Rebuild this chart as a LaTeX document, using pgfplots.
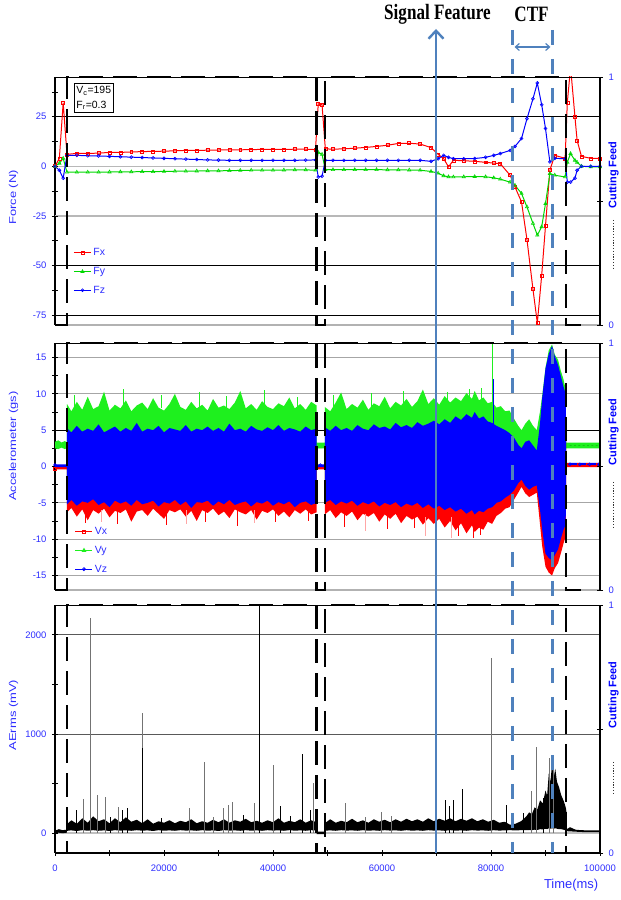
\documentclass[border=0pt]{standalone}
\usepackage{pgfplots}
\pgfplotsset{compat=1.18}
\usepackage{pgfplotstable}
\usepgfplotslibrary{fillbetween}
\usetikzlibrary{arrows.meta}
\usepackage{fontspec}
\setmainfont{Liberation Sans}
\newfontfamily\annfont{Liberation Serif}
\definecolor{sfblue}{RGB}{79,129,189}
\definecolor{tickblue}{RGB}{45,45,255}
\definecolor{fgreen}{RGB}{0,215,0}
\definecolor{vgreen}{RGB}{30,240,30}
\definecolor{fred}{RGB}{255,0,0}
\definecolor{fblue}{RGB}{0,0,255}

\pgfplotstableread{
t fx fy fz
0 0 0 0
800 4 1.5 -2
1500 32 4 -6
2200 6 -3 5.5
4000 6.5 -3 5.5
6000 6.5 -3 5.3
8000 6.6 -3 5.2
10000 7 -2.9 5.0
12000 7 -2.8 4.8
14000 7.2 -2.8 4.6
16000 7.4 -2.7 4.4
18000 7.5 -2.7 4.2
20000 7.6 -2.6 4.0
22000 7.8 -2.5 3.8
24000 8 -2.5 3.6
26000 8 -2.4 3.4
28000 8.1 -2.3 3.2
30000 8.2 -2.3 3.1
32000 8.3 -2.2 3.0
34000 8.3 -2.1 3.0
36000 8.4 -2.0 3.0
38000 8.5 -2.0 3.0
40000 8.5 -2.0 3.0
42000 8.5 -1.9 3.0
44000 8.6 -1.8 3.0
46000 8.6 -1.8 3.1
47800 8.4 -2.0 3.2
48300 31.5 7 -5.4
49000 31 6 -5
49600 8.8 -1.7 3.0
51000 8.6 -1.7 3.0
53000 8.8 -1.7 3.0
55000 9.1 -1.7 3.0
57000 9.5 -1.7 3.0
59000 10 -1.7 3.0
61000 10.6 -1.8 3.0
63000 11.5 -1.8 3.0
65000 11.6 -1.9 3.0
67000 11.2 -2.0 3.0
69000 9.4 -2.6 2.5
70300 6 -3.5 3.8
71300 3.9 -4.8 5.5
72200 -0.3 -5.3 4.5
73100 3 -5.4 3.8
75000 2.8 -5.3 3.8
77000 2.5 -5.2 3.9
79000 2 -5.3 4.5
80500 1.6 -5.8 5.5
81700 1.3 -6.5 6.4
83500 -4.5 -8 8
84400 -10.4 -9.6 10
85600 -18 -13.7 14
86600 -37 -20.5 24
87700 -62 -28.8 34
88500 -79 -34.7 42
89300 -55 -30.5 31
90000 -30 -18.8 19
90800 -2 -3.7 2.2
91700 5.5 -4.5 4
93600 4 -5.4 3.8
94000 32 2 -8
94600 50 6.4 -8
95400 25 3 -6
95800 13 2 -2
96600 5 0 0
98300 4 -0.3 0
100000 4 -0.3 0
}\force

\pgfplotstableread{
t gh gl bh bl rh rl
0 3.4 2.5 0.3 -0.1 0.0 -0.4
600 3.6 2.4 0.3 -0.1 0.0 -0.4
1200 3.3 2.6 0.3 -0.1 0.0 -0.4
1800 3.5 2.4 0.3 -0.1 0.0 -0.4
2199 3.3 2.5 0.3 -0.1 0.0 -0.4
2200 8.6 -2.5 5.3 -5.2 2.5 -6.3
3000 7.6 -2.5 4.7 -4.6 2.5 -5.7
4000 8.9 -2.5 5.6 -5.4 2.5 -6.9
5000 7.8 -2.5 4.8 -4.8 2.5 -5.9
6000 9.6 -2.5 5.2 -5.0 2.5 -7.4
7000 7.9 -2.5 4.9 -4.5 2.5 -6.0
8000 8.3 -2.5 5.8 -5.3 2.5 -6.5
9000 10.3 -2.5 4.7 -4.9 2.5 -5.8
10000 7.7 -2.5 5.1 -5.6 2.5 -7.0
11000 8.5 -2.5 5.5 -4.7 2.5 -6.1
12000 8.0 -2.5 4.8 -5.1 2.5 -6.4
13000 9.1 -2.5 5.3 -4.8 2.5 -5.9
14000 7.6 -2.5 4.9 -5.4 2.5 -7.6
15000 8.4 -2.5 6.0 -4.6 2.5 -6.2
16000 8.8 -2.5 4.8 -5.2 2.5 -6.0
17000 7.9 -2.5 5.2 -5.0 2.5 -6.8
18000 9.4 -2.5 5.0 -4.7 2.5 -5.8
19000 8.1 -2.5 5.6 -5.5 2.5 -6.5
20000 7.7 -2.5 4.7 -4.9 2.5 -7.2
21000 8.6 -2.5 5.3 -5.1 2.5 -6.0
22000 10.0 -2.5 5.1 -4.6 2.5 -6.3
23000 8.2 -2.5 4.9 -5.3 2.5 -5.9
24000 7.8 -2.5 5.7 -4.8 2.5 -6.9
25000 8.9 -2.5 4.8 -5.7 2.5 -6.1
26000 8.0 -2.5 5.2 -4.9 2.5 -7.5
27000 8.5 -2.5 5.0 -5.0 2.5 -6.0
28000 7.7 -2.5 5.5 -4.7 2.5 -6.4
29000 9.3 -2.5 4.9 -5.4 2.5 -5.8
30000 8.1 -2.5 5.3 -4.8 2.5 -6.7
31000 8.4 -2.5 4.8 -5.2 2.5 -6.2
32000 7.9 -2.5 5.9 -4.6 2.5 -7.1
33000 8.8 -2.5 5.0 -5.3 2.5 -5.9
34000 10.4 -2.5 5.2 -5.0 2.5 -6.3
35000 8.0 -2.5 4.8 -4.8 2.5 -6.6
36000 8.6 -2.5 5.6 -5.5 2.5 -6.0
37000 7.8 -2.5 5.1 -4.9 2.5 -7.3
38000 9.0 -2.5 4.9 -5.1 2.5 -6.1
39000 8.2 -2.5 5.4 -4.7 2.5 -6.4
40000 7.9 -2.5 5.0 -5.4 2.5 -5.9
41000 8.7 -2.5 5.7 -4.9 2.5 -6.8
42000 8.3 -2.5 4.9 -5.2 2.5 -6.2
43000 9.5 -2.5 5.3 -4.8 2.5 -7.0
44000 8.0 -2.5 5.1 -5.6 2.5 -6.0
45000 8.6 -2.5 4.8 -5.0 2.5 -6.5
46000 7.8 -2.5 5.5 -4.8 2.5 -5.9
47000 8.9 -2.5 5.0 -5.3 2.5 -6.6
47999 8.4 -2.5 5.2 -5.0 2.5 -6.3
48000 3.3 2.5 0.3 -0.1 0.0 -0.4
49499 3.3 2.5 0.3 -0.1 0.0 -0.4
49500 8.2 -2.5 5.4 -5.0 2.5 -6.6
50500 7.6 -2.5 4.9 -4.6 2.5 -6.0
51500 8.8 -2.5 5.6 -5.3 2.5 -7.1
52500 10.2 -2.5 5.0 -4.8 2.5 -6.3
53500 7.9 -2.5 5.3 -5.1 2.5 -6.8
54500 8.6 -2.5 4.9 -4.7 2.5 -6.2
55500 8.1 -2.5 5.7 -5.4 2.5 -7.4
56500 9.2 -2.5 5.2 -4.9 2.5 -6.5
57500 7.8 -2.5 5.0 -5.2 2.5 -6.9
58500 8.7 -2.5 5.8 -4.8 2.5 -6.4
59500 8.3 -2.5 5.3 -5.5 2.5 -7.6
60500 9.6 -2.5 5.5 -5.0 2.5 -6.6
61500 8.0 -2.5 5.1 -5.3 2.5 -7.2
62500 8.9 -2.5 6.0 -4.9 2.5 -6.5
63500 8.4 -2.5 5.4 -5.6 2.5 -7.8
64500 9.3 -2.5 5.7 -5.1 2.5 -6.8
65500 8.2 -2.5 5.3 -5.4 2.5 -7.3
66500 9.0 -2.5 6.1 -5.0 2.5 -6.9
67500 10.6 -2.5 5.6 -5.7 2.5 -8.0
68500 8.6 -2.5 5.9 -5.2 2.5 -7.1
69500 9.4 -2.5 6.3 -5.8 2.5 -7.9
70500 8.5 -2.5 5.8 -5.4 2.5 -7.2
71500 9.7 -2.5 6.5 -6.0 2.5 -8.4
72500 8.8 -2.5 6.0 -5.6 2.5 -7.5
73500 9.5 -2.5 6.9 -6.2 2.5 -8.8
74500 9.0 -2.5 6.4 -5.8 2.5 -7.8
75500 10.1 -2.5 7.2 -6.5 2.5 -9.2
76500 9.3 -2.5 6.7 -6.0 2.5 -8.1
77000 10.4 -2.5 7.5 -6.6 2.5 -9.0
77800 9.1 -2.5 6.6 -6.1 2.5 -8.4
78600 9.5 -2.5 6.9 -6.3 2.5 -8.7
79400 8.7 -2.5 6.2 -5.8 2.5 -7.6
80200 8.9 -2.5 6.0 -5.6 2.5 -7.9
81000 8.1 -2.5 5.6 -5.0 2.5 -6.8
81800 8.3 -2.5 5.3 -4.8 2.5 -6.4
82600 7.6 -2.0 5.0 -4.3 2.5 -5.8
83400 7.7 -2.0 4.6 -3.9 2.5 -5.6
84200 6.6 0 4.0 -3.3 1.5 -4.6
85000 5.6 0 3.0 -2.3 1.5 -3.6
85600 5.0 0 2.5 -1.8 1.5 -2.8
86300 5.9 0 3.4 -2.7 1.5 -3.7
87000 6.5 0 3.6 -3.2 1.5 -4.2
87700 5.6 0 2.9 -2.8 1.5 -3.9
88400 5.0 0 2.2 -2.6 1.5 -3.6
89000 7.6 -2 6.0 -6.0 5.0 -8.0
89400 9.8 -2 9.5 -8.7 8.5 -11.0
90000 13.6 -2 13.5 -12.0 12.5 -13.8
90600 16.0 -2 15.5 -12.6 14.5 -14.6
91200 16.8 -2 16.6 -12.9 15.6 -15.0
91700 15.4 -2 15.2 -12.2 14.2 -14.0
92300 14.7 -2 14.0 -11.4 13 -13.3
92800 13.2 -2 12.5 -10.0 11.5 -12.0
93300 12.0 -2 11.0 -8.7 10 -10.6
93700 10.6 -2 10.0 -8.0 9 -9.6
93800 3.3 2.5 0.5 0.1 0.3 -0.1
100000 3.3 2.5 0.5 0.1 0.3 -0.1
}\acc

\pgfplotstableread{
t lo hi
0 0 25
700 5 40
1400 0 30
2199 5 35
2200 25 90
3000 28 130
4000 22 95
5000 30 150
6000 25 105
7000 30 170
8000 24 120
9000 28 140
10000 22 100
11000 30 150
12000 26 110
13000 28 160
14000 24 115
15000 30 135
16000 25 100
17000 28 140
18000 22 95
19000 30 120
20000 25 105
21000 28 130
22000 24 100
23000 30 125
24000 26 110
25000 28 140
26000 24 100
27000 30 120
28000 25 105
29000 28 135
30000 22 110
31000 30 140
32000 26 105
33000 28 130
34000 24 115
35000 30 145
36000 25 110
37000 28 125
38000 24 105
39000 30 130
40000 26 110
41000 28 150
42000 24 105
43000 30 125
44000 25 110
45000 28 140
46000 24 105
47000 30 130
47999 26 110
48000 -10 15
49499 -10 15
49500 25 100
50500 28 140
51500 24 105
52500 30 125
53500 26 110
54500 28 145
55500 24 110
56500 30 130
57500 25 105
58500 28 140
59500 24 115
60500 30 135
61500 26 110
62500 28 140
63500 24 115
64500 30 145
65500 25 120
66500 28 140
67500 24 115
68500 30 150
69500 26 120
70500 28 145
71500 24 125
72500 30 150
73500 25 120
74500 28 145
75500 24 125
76500 30 150
77500 26 120
78500 28 140
79500 24 115
80500 30 135
81500 26 105
82500 28 115
83500 30 85
84500 28 95
85500 30 120
86500 30 170
87000 32 210
87500 30 190
88000 35 260
88500 32 240
89000 40 330
89500 38 300
90000 45 430
90300 40 380
90600 50 600
90900 45 520
91200 50 690
91500 45 560
91800 50 650
92100 45 520
92500 40 460
92900 40 380
93300 35 330
93600 30 280
93800 30 240
93900 20 40
94500 18 60
95500 15 35
96500 12 30
98000 10 28
100000 10 28
}\ae

\pgfplotstableread{
t c
0 0
2200 0
2200 1
48000 1
48000 0
49500 0
49500 1
93800 1
93800 0
96500 0
}\cf

\pgfplotsset{
  base/.style={scale only axis, width=545bp, xmin=0, xmax=100000,
    /pgf/number format/assume math mode=true,
    /pgf/number format/set thousands separator={},
    scaled x ticks=false, scaled y ticks=false,
    tick label style={font=\fontsize{9.5}{10}\selectfont, text=tickblue},
    tick align=center, major tick length=6bp, minor tick length=6bp,
    tick style={black, line width=0.7pt},
  },
  mainax/.style={base, anchor=south west, axis x line*=bottom, axis y line*=left,
    y axis line style={black, line width=1.3pt},
    x axis line style={black!30, line width=1.3pt},
    xtick=\empty, ymajorgrids,
    yticklabel style={xshift=-2bp},
    ylabel style={font=\fontsize{10}{12}\selectfont, text=tickblue, anchor=center},
  },
  feedax/.style={base, anchor=south west, axis y line*=right, axis x line*=top,
    ymin=0, ymax=1, ytick={0,1}, minor ytick={0.5}, xtick=\empty, clip=false,
    y axis line style={black, line width=1.3pt},
    x axis line style={black, line width=0.6pt},
    yticklabel style={xshift=2bp},
    ylabel={Cutting Feed},
    ylabel style={font=\bfseries\fontsize{11}{13}\selectfont, text=fblue, anchor=center},
  },
  feed/.style={black, line width=2.4bp, dash pattern=on 24bp off 10bp},
}

\begin{document}
\begin{tikzpicture}

% ---------------- Force panel ----------------
\begin{axis}[mainax, at={(55bp,575bp)}, height=248bp, ymin=-80, ymax=45,
  ytick={-75,-50,25}, extra y ticks={-25,0},
  extra y tick style={grid=major, grid style={black!28, line width=1.4pt}},
  minor ytick={-62.5,-37.5,-12.5,12.5,37.5},
  grid style={black, line width=0.7pt},
  ylabel={\scalebox{1.3}[1]{Force (N)}},
  ylabel style={at={(rel axis cs:-0.076,0.514)}},
  legend style={at={(0.028,0.325)}, anchor=north west, draw=none, fill=none,
    font=\fontsize{10.5}{12}\selectfont, text=tickblue, row sep=6bp},
  legend cell align=left]
\addplot[fred, line width=1pt, mark=square, mark size=1.5pt, mark options={solid, fill=white, line width=0.6pt}] table[x=t,y=fx]{\force};
\addlegendentry{Fx}
\addplot[fgreen, line width=1pt, mark=triangle, mark size=1.9pt, mark options={solid, fill=white, line width=0.6pt}] table[x=t,y=fy]{\force};
\addlegendentry{Fy}
\addplot[fblue, line width=1pt, mark=o, mark size=1.5pt, mark options={solid, fill=white, line width=0.6pt}] table[x=t,y=fz]{\force};
\addlegendentry{Fz}
\node[draw, fill=white, anchor=north west, align=left, inner sep=2.5bp, line width=0.8pt,
  font=\fontsize{10.5}{15}\selectfont] at (rel axis cs:0.034,0.975) {V\textsubscript{c}=195\\F\textsubscript{r}=0.3};
\end{axis}
\begin{axis}[feedax, at={(55bp,575bp)}, height=248bp,
  ylabel style={at={(rel axis cs:1.025,0.605)}}]
\addplot[feed] table[x=t,y=c]{\cf};
\end{axis}

% ---------------- Accelerometer panel ----------------
\begin{axis}[mainax, at={(55bp,310bp)}, height=247bp, ymin=-17, ymax=17,
  ytick={-15,-10,-5,0,10,15}, extra y ticks={5},
  extra y tick style={grid=major, grid style={black, line width=0.7pt}},
  minor ytick={-12.5,-7.5,-2.5,2.5,7.5,12.5},
  grid style={black!35, line width=1.1pt},
  ylabel={\scalebox{1.3}[1]{Accelerometer (gs)}},
  ylabel style={at={(rel axis cs:-0.076,0.583)}},
  legend style={at={(0.031,0.27)}, anchor=north west, draw=none, fill=none,
    font=\fontsize{10.5}{12}\selectfont, text=tickblue, row sep=6bp},
  legend cell align=left,
  unbounded coords=jump]
\addlegendimage{fred, line width=0.8pt, mark=square, mark size=1.5pt, mark options={solid, fill=white}}
\addlegendentry{Vx}
\addlegendimage{vgreen, line width=0.8pt, mark=triangle*, mark size=2pt}
\addlegendentry{Vy}
\addlegendimage{fblue, line width=0.8pt, mark=o, mark size=1.5pt, mark options={solid, fill=white}}
\addlegendentry{Vz}
% bands
\addplot[name path=gh, draw=none] table[x=t,y=gh]{\acc};
\addplot[name path=gl, draw=none] table[x=t,y=gl]{\acc};
\addplot[vgreen] fill between[of=gh and gl];
\addplot[name path=rh, draw=none] table[x=t,y=rh]{\acc};
\addplot[name path=rl, draw=none] table[x=t,y=rl]{\acc};
\addplot[fred] fill between[of=rh and rl];
\addplot[name path=bh, draw=none] table[x=t,y=bh]{\acc};
\addplot[name path=bl, draw=none] table[x=t,y=bl]{\acc};
\addplot[fblue] fill between[of=bh and bl];
% spikes above / below the bands
\addplot[vgreen, line width=0.7pt] coordinates {(3500,8) (3500,9.8) (3500,nan) (12500,8) (12500,10.7) (12500,nan) (19500,8) (19500,9.9) (19500,nan) (26500,8) (26500,10.2) (26500,nan) (31500,8) (31500,9.7) (31500,nan) (38500,8) (38500,10.5) (38500,nan) (44500,8) (44500,9.6) (44500,nan) (51000,8) (51000,9.9) (51000,nan) (58000,8) (58000,10.1) (58000,nan) (64000,8.5) (64000,10.4) (64000,nan) (72000,8.5) (72000,10.3) (72000,nan) (76000,9) (76000,10.6) (76000,nan) (78200,9) (78200,10.8) (78200,nan) (80300,8.5) (80300,16.8)};
\addplot[fblue, line width=0.7pt] coordinates {(80450,5.5) (80450,12)};
\addplot[fred, line width=0.7pt] coordinates {(5500,-6) (5500,-7.8) (5500,nan) (11500,-6) (11500,-7.9) (11500,nan) (20500,-6) (20500,-8) (20500,nan) (27500,-6) (27500,-7.7) (27500,nan) (33500,-6) (33500,-8.2) (33500,nan) (40500,-6) (40500,-7.6) (40500,nan) (46500,-6) (46500,-7.5) (46500,nan) (53000,-6) (53000,-8.3) (53000,nan) (61000,-6.5) (61000,-8.6) (61000,nan) (66000,-6.5) (66000,-8.5) (66000,nan) (70000,-7) (70000,-9.2) (70000,nan) (74000,-7.5) (74000,-9.5) (74000,nan) (76800,-7.5) (76800,-9.8) (76800,nan) (78000,-7.5) (78000,-9.4)};
\addplot[fred!35, line width=0.6pt] coordinates {(8500,-6) (8500,-7.6) (8500,nan) (24000,-6) (24000,-7.9) (24000,nan) (36500,-6) (36500,-7.8) (36500,nan) (57000,-6.5) (57000,-8.9) (57000,nan) (68000,-7) (68000,-9.6) (68000,nan) (72800,-7) (72800,-9.9)};
% idle markers
\addplot[fred, line width=0.8pt, mark=square, mark size=1.3pt, mark options={fill=white}, mark indices={1}] coordinates {(0,-0.3)(2100,-0.3)};
\addplot[fblue, line width=0.8pt, mark=o, mark size=1.3pt, mark options={fill=white}, mark indices={1}] coordinates {(0,0.2)(2100,0.2)};
\addplot[vgreen, line width=0.8pt, only marks, mark=triangle*, mark size=1.5pt] coordinates {(48700,2.7)};
\addplot[fblue, line width=0.8pt, only marks, mark=o, mark size=1.3pt] coordinates {(48700,0.2)};
\addplot[vgreen!80!black, line width=0.6pt, mark=triangle*, mark size=1.2pt, mark options={vgreen}] coordinates {(94200,2.9)(95000,2.9)(95800,2.9)(96600,2.9)(97400,2.9)(98200,2.9)(99000,2.9)(99800,2.9)};
\addplot[fred, line width=0.8pt, mark=square, mark size=1.3pt, mark options={fill=white}] coordinates {(94200,0.2)(96000,0.2)(97800,0.2)(99600,0.2)};
\addplot[fblue, line width=0.8pt, mark=o, mark size=1.3pt, mark options={fill=white}] coordinates {(94500,0.3)(96300,0.3)(98100,0.3)(99800,0.3)};
\end{axis}
\begin{axis}[feedax, at={(55bp,310bp)}, height=247bp,
  ylabel style={at={(rel axis cs:1.025,0.64)}}]
\addplot[feed] table[x=t,y=c]{\cf};
\end{axis}

% ---------------- AE panel ----------------
\begin{axis}[mainax, at={(55bp,47bp)}, height=248bp, ymin=-200, ymax=2300,
  ytick={1000,2000}, extra y ticks={0},
  extra y tick style={grid=major, grid style={black!25, line width=1.4pt}},
  minor ytick={500,1500},
  grid style={black!65, line width=0.8pt},
  xtick={0,20000,40000,60000,80000,100000},
  xticklabels={0,20000,40000,60000,80000,100000},
  minor xtick={10000,30000,50000,70000,90000},
  x axis line style={black, line width=1.3pt},
  xticklabel style={yshift=-5bp},
  xlabel={Time(ms)},
  xlabel style={at={(rel axis cs:0.947,0)}, anchor=north, yshift=-23bp,
    font=\fontsize{13}{14}\selectfont, text=tickblue},
  ylabel={\scalebox{1.3}[1]{AErms (mV)}},
  ylabel style={at={(rel axis cs:-0.076,0.556)}}]
\addplot[ycomb, black!55, line width=0.6pt] coordinates {(5200,343)(6550,2170)(7830,384)(9170,367)(11620,266)(16090,1212)(24640,250)(27400,714)(29050,160)(30880,250)(31800,283)(32540,316)(36510,300)(40060,687)(47400,505)(53340,306)(56880,160)(59950,215)(61780,170)(80120,1770)(87340,420)(88380,872)(90700,760)(91400,740)};
\addplot[ycomb, black, line width=0.8pt] coordinates {(3850,232)(10090,165)(12420,232)(13270,250)(16090,857)(19570,150)(34550,182)(37430,2400)(41280,273)(43120,172)(45380,798)(46790,232)(71560,333)(72300,270)(73030,333)(74740,450)(82750,280)(86000,200)(89600,350)};
\addplot[name path=aelo, draw=none] table[x=t,y=lo]{\ae};
\addplot[name path=aehi, draw=none] table[x=t,y=hi]{\ae};
\addplot[black] fill between[of=aehi and aelo];
\end{axis}
\begin{axis}[feedax, at={(55bp,47bp)}, height=248bp,
  ylabel style={at={(rel axis cs:1.025,0.637)}}]
\addplot[feed] table[x=t,y=c]{\cf};
\end{axis}

% dotted marks beside "Cutting Feed"
\draw[black!80, line width=1.1bp, dash pattern=on 1.2bp off 1.6bp] (613.5bp,680bp) -- (613.5bp,630bp);
\draw[black!80, line width=1.1bp, dash pattern=on 1.2bp off 1.6bp] (613.5bp,418bp) -- (613.5bp,373bp);
\draw[black!80, line width=1.1bp, dash pattern=on 1.2bp off 1.6bp] (613.5bp,138bp) -- (613.5bp,107bp);

% annotations
\draw[sfblue, line width=2.6bp, -{Straight Barb[length=8bp,width=15bp,line width=2.4bp]}] (436bp,47bp) -- (436bp,871bp);
\draw[sfblue, line width=2.6bp, dash pattern=on 15bp off 14bp] (512.7bp,870bp) -- (512.7bp,47bp);
\draw[sfblue, line width=2.6bp, dash pattern=on 15bp off 14bp] (552.3bp,870bp) -- (552.3bp,47bp);
\draw[sfblue, line width=1.2bp, {Straight Barb[length=4bp,width=7bp]}-{Straight Barb[length=4bp,width=7bp]}] (514.5bp,853bp) -- (550.5bp,853bp);
\node[font=\annfont\bfseries\fontsize{22}{24}\selectfont, inner sep=0pt] at (437.5bp,886bp) {\scalebox{0.78}[1]{Signal Feature}};
\node[font=\annfont\bfseries\fontsize{22}{24}\selectfont, inner sep=0pt] at (531.5bp,886bp) {\scalebox{0.78}[1]{CTF}};

\pgfresetboundingbox
\path[use as bounding box] (0bp,0bp) rectangle (621bp,900bp);
\end{tikzpicture}
\end{document}
